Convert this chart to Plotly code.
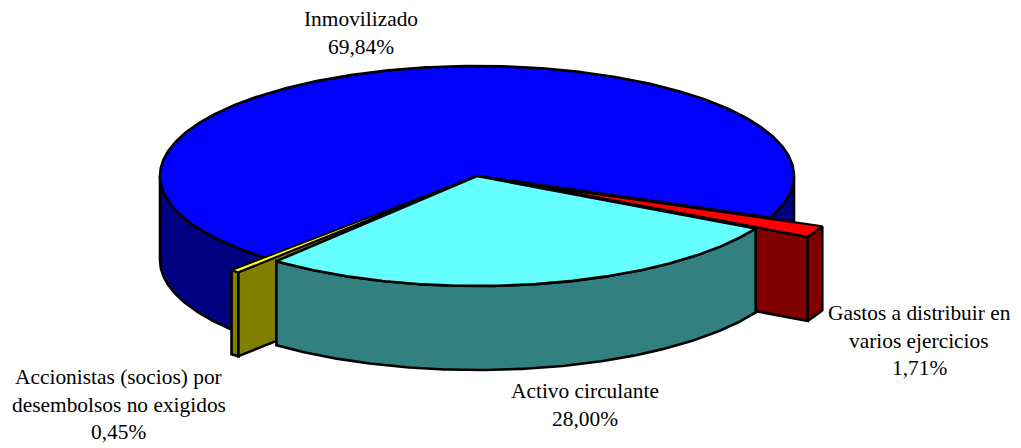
import numpy as np
import plotly.graph_objects as go

categories = ["Inmovilizado", "Gastos a distribuir en varios ejercicios", "Activo circulante",
              "Accionistas (socios) por desembolsos no exigidos"]
values = [69.84, 1.71, 28.00, 0.45]
label_lines = [["Inmovilizado"], ["Gastos a distribuir en", "varios ejercicios"],
               ["Activo circulante"], ["Accionistas (socios) por", "desembolsos no exigidos"]]

top_colors = ["#0000FF", "#FF0000", "#66FFFF", "#FFFF00"]
side_colors = ["#000080", "#800000", "#338080", "#808000"]
offset_x = [0, 52, 0, -38]
offset_y = [0, 8.5, 0, 11]
apex_dx = [0, 52, 0, 0]
apex_dy = [0, 8.5, 0, 0]
top_line_width = [2.6, 2.2, 2.6, 1.8]
label_x = [361, 919, 585, 118.5]
label_y = [19, 313, 391, 377]
draw_order = [0, 1, 3, 2]

CX, CY, RX, RY, DEPTH = 477, 176, 317, 110, 84
START = 130.88

fig = go.Figure()


def poly(xs, ys, color, width=2.6):
    fig.add_trace(go.Scatter(x=list(xs), y=list(ys), mode="lines", fill="toself", fillcolor=color,
                             line=dict(color="black", width=width), hoverinfo="skip", showlegend=False))


def rim(a0, a1, dx, dy, drop=0):
    t = np.radians(np.linspace(a0, a1, max(2, int(abs(a1 - a0) * 2) + 2)))
    return CX + dx + RX * np.cos(t), CY + dy + drop + RY * np.sin(t)


def wall(a0, a1, dx, dy, color):
    x1, y1 = rim(a0, a1, dx, dy)
    x2, y2 = rim(a1, a0, dx, dy, DEPTH)
    poly(np.r_[x1, x2, x1[0]], np.r_[y1, y2, y1[0]], color)


def radial_face(a, dx, dy, adx, ady, color):
    x, y = rim(a, a, dx, dy)
    ax, ay = CX + adx, CY + ady
    poly([ax, x[0], x[0], ax, ax], [ay, y[0], y[0] + DEPTH, ay + DEPTH, ay], color)


angles = START + np.r_[0, np.cumsum(values)] * 3.6
for i in draw_order:
    a0, a1 = angles[i], angles[i + 1]
    dx, dy = offset_x[i], offset_y[i]
    ax, ay = CX + apex_dx[i], CY + apex_dy[i]
    # outer wall: only the part facing the viewer (sin > 0)
    for k in range(-1, 3):
        lo, hi = max(a0, k * 360), min(a1, k * 360 + 180)
        if hi > lo:
            wall(lo, hi, dx, dy, side_colors[i])
    if i == 1:
        radial_face(a1, dx, dy, apex_dx[i], apex_dy[i], side_colors[i])
    if i == 3:
        radial_face(a0, dx, dy, apex_dx[i], apex_dy[i], side_colors[i])
    x, y = rim(a0, a1, dx, dy)
    poly(np.r_[ax, x, ax], np.r_[ay, y, ay], top_colors[i], top_line_width[i])

annotations = []
for i, lines in enumerate(label_lines):
    txt = lines + [f"{values[i]:.2f}%".replace(".", ",")]
    for j, line in enumerate(txt):
        annotations.append(dict(x=label_x[i], y=label_y[i] + j * 27.6, xref="x", yref="y", text=line,
                                showarrow=False, xanchor="center", yanchor="middle",
                                font=dict(family="Liberation Serif", size=21.4, color="black")))

fig.update_layout(
    width=1021, height=448, margin=dict(l=0, r=0, t=0, b=0),
    paper_bgcolor="white", plot_bgcolor="white", showlegend=False,
    xaxis=dict(range=[0, 1021], visible=False, fixedrange=True),
    yaxis=dict(range=[448, 0], visible=False, fixedrange=True),
    annotations=annotations,
)
fig.write_html("out.html", config={"displayModeBar": False},
               post_script="document.body.style.margin='0';document.body.style.overflow='hidden';")
